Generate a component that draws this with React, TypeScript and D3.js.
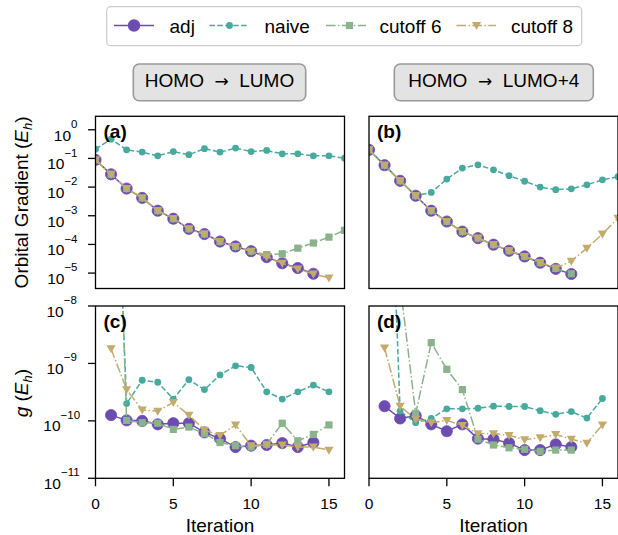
import React from "react";
import * as d3 from "d3";

// ---------- data ----------
const LEGEND_LABELS = ["adj", "naive", "cutoff 6", "cutoff 8"];
const TITLE_LEFT = ["HOMO", "HOMO"];
const TITLE_RIGHT = ["LUMO", "LUMO+4"];
const PANEL_LABELS = ["(a)", "(b)", "(c)", "(d)"];
const X_TICKS = [0, 5, 10, 15];
const TOP_Y_TICKS = [1e0, 1e-1, 1e-2, 1e-3, 1e-4, 1e-5];
const TOP_Y_EXP = ["0", "\u22121", "\u22122", "\u22123", "\u22124", "\u22125"];
const BOT_Y_TICKS = [1e-8, 1e-9, 1e-10, 1e-11];
const BOT_Y_EXP = ["\u22128", "\u22129", "\u221210", "\u221211"];

// Panel (a): orbital gradient, HOMO -> LUMO (iterations start at 0)
const adjA = [8.9e-2, 2.8e-2, 8.9e-3, 4.2e-3, 1.5e-3, 7.9e-4, 3.5e-4, 2.3e-4, 1.26e-4, 8.5e-5, 5.8e-5, 3.6e-5, 2.2e-5, 1.5e-5, 9.5e-6];
const naiveA = [0.21, 0.47, 0.2, 0.166, 0.123, 0.174, 0.135, 0.219, 0.166, 0.229, 0.174, 0.19, 0.145, 0.145, 0.123, 0.123, 0.102];
const cut6A = [8.9e-2, 2.8e-2, 8.9e-3, 4.2e-3, 1.5e-3, 7.9e-4, 3.5e-4, 2.3e-4, 1.26e-4, 8.5e-5, 5.8e-5, 4.4e-5, 4.7e-5, 7.4e-5, 1.12e-4, 1.8e-4, 3.1e-4];
const cut8A = [8.9e-2, 2.8e-2, 8.9e-3, 4.2e-3, 1.5e-3, 7.9e-4, 3.5e-4, 2.3e-4, 1.25e-4, 8.4e-5, 5.7e-5, 3.7e-5, 2.2e-5, 1.4e-5, 9.3e-6, 6.8e-6];

// Panel (b): orbital gradient, HOMO -> LUMO+4 (iterations start at 0)
const adjB = [0.2, 5.8e-2, 1.66e-2, 5.0e-3, 1.5e-3, 6.3e-4, 2.8e-4, 1.66e-4, 9.8e-5, 6.0e-5, 3.8e-5, 2.3e-5, 1.4e-5, 9.3e-6];
const naiveB = [0.2, 5.8e-2, 1.66e-2, 5.0e-3, 6.5e-3, 1.9e-2, 4.6e-2, 6.0e-2, 4.0e-2, 2.5e-2, 1.6e-2, 1.0e-2, 8.1e-3, 8.7e-3, 1.2e-2, 1.8e-2, 2.3e-2];
const cut6B = [0.2, 5.8e-2, 1.66e-2, 5.0e-3, 1.5e-3, 6.3e-4, 2.8e-4, 1.66e-4, 9.8e-5, 6.0e-5, 3.8e-5, 2.3e-5, 1.45e-5, 9.5e-6];
const cut8B = [0.2, 5.8e-2, 1.66e-2, 5.0e-3, 1.5e-3, 6.3e-4, 2.8e-4, 1.66e-4, 9.8e-5, 6.0e-5, 3.8e-5, 2.3e-5, 1.5e-5, 2.6e-5, 7.4e-5, 2.3e-4, 8.3e-4];

// Panel (c): g, HOMO -> LUMO (iterations start at 1)
const adjC = [1.26e-10, 1.02e-10, 1.0e-10, 8.7e-11, 9.1e-11, 9.1e-11, 6.3e-11, 4.9e-11, 3.5e-11, 3.7e-11, 3.8e-11, 4.1e-11, 3.5e-11, 4.2e-11];
const naiveC = [1e-3, 2.0e-10, 5.1e-10, 4.7e-10, 2.4e-10, 5.2e-10, 3.5e-10, 6.3e-10, 9.1e-10, 8.5e-10, 3.2e-10, 2.4e-10, 3.2e-10, 4.2e-10, 3.2e-10];
const cut6C = [1e-2, 1.02e-10, 9.3e-11, 9.1e-11, 7.1e-11, 7.8e-11, 6.0e-11, 4.2e-11, 3.7e-11, 3.5e-11, 3.9e-11, 9.1e-11, 4.5e-11, 5.8e-11, 8.5e-11];
const cut8C = [1.8e-9, 3.5e-10, 1.55e-10, 1.48e-10, 2.1e-10, 1.26e-10, 6.9e-11, 5.6e-11, 8.5e-11, 3.7e-11, 3.8e-11, 3.8e-11, 3.5e-11, 3.5e-11, 3.1e-11];

// Panel (d): g, HOMO -> LUMO+4 (iterations start at 1)
const adjD = [1.8e-10, 1.1e-10, 1.23e-10, 8.7e-11, 6.6e-11, 8.7e-11, 4.9e-11, 4.8e-11, 4.1e-11, 3.1e-11, 3.1e-11, 3.9e-11, 3.5e-11];
const naiveD = [2e-3, 1.48e-10, 9.3e-11, 1.1e-10, 1.62e-10, 1.62e-10, 1.66e-10, 1.8e-10, 1.78e-10, 1.78e-10, 1.5e-10, 1.3e-10, 1.45e-10, 1.12e-10, 2.45e-10];
const cut6D = [1e-6, 2.4e-8, 1.35e-10, 2.3e-9, 7.9e-10, 3.5e-10, 4.8e-11, 3.8e-11, 3.4e-11, 3.2e-11, 2.95e-11, 3.1e-11, 3.1e-11];
const cut8D = [1.86e-9, 1.8e-10, 1.07e-10, 9.3e-11, 1.02e-10, 8.3e-11, 6.0e-11, 6.0e-11, 5.6e-11, 4.7e-11, 5.1e-11, 5.8e-11, 4.8e-11, 4.1e-11, 8.5e-11];

const TOP_START = 0;
const BOT_START = 1;

// ---------- styles ----------
const FONT = '"Liberation Sans", Arial, Helvetica, sans-serif';
const ARROW_FONT = '"DejaVu Sans", sans-serif';
const COLORS = ["#6c4cb0", "#48aa9e", "#8ab38c", "#c2ac6c"];
const DASHES = [null, "5.5,2.4", "9.6,2.4,1.5,2.4", "9.6,2.4,1.5,2.4"];
const MARKERS = ["bigcircle", "circle", "square", "triangle"];
const LW = 1.5;

type Series = { values: number[]; start: number };

function Marker({ kind, x, y, color }: { kind: string; x: number; y: number; color: string }) {
  if (kind === "bigcircle") return <circle cx={x} cy={y} r={5.6} fill={color} stroke={color} strokeWidth={0.8} />;
  if (kind === "circle") return <circle cx={x} cy={y} r={3.4} fill={color} />;
  if (kind === "square") return <rect x={x - 3.6} y={y - 3.6} width={7.2} height={7.2} fill={color} />;
  const s = 4.6;
  return <path d={`M${x - s},${y - s * 0.75}L${x + s},${y - s * 0.75}L${x},${y + s}Z`} fill={color} />;
}

function Panel({
  id, x0, x1, y0, y1, yDomain, series, label, showYTicks, yTicks, yExp, showXTicks, xLabel, bottomStyle,
}: any) {
  const xs = d3.scaleLinear().domain([0, 16]).range([x0, x1]);
  const ys = d3.scaleLog().domain(yDomain).range([y1, y0]);
  const line = d3.line<[number, number]>().x((d) => xs(d[0])).y((d) => ys(d[1]));
  return (
    <g>
      <defs>
        <clipPath id={id}>
          <rect x={x0} y={y0} width={x1 - x0} height={y1 - y0} />
        </clipPath>
      </defs>
      <g clipPath={`url(#${id})`}>
        {series.map((s: Series, k: number) => {
          const pts: [number, number][] = s.values.map((v, i) => [i + s.start, v]);
          return (
            <g key={k}>
              <path
                d={line(pts) || ""}
                fill="none"
                stroke={COLORS[k]}
                strokeWidth={LW}
                strokeDasharray={DASHES[k] || undefined}
              />
              {pts.map((p, i) => (
                <Marker key={i} kind={MARKERS[k]} x={xs(p[0])} y={ys(p[1])} color={COLORS[k]} />
              ))}
            </g>
          );
        })}
      </g>
      <rect x={x0} y={y0} width={x1 - x0} height={y1 - y0} fill="none" stroke="#000" strokeWidth={1.3} />
      <text x={x0 + 8} y={y0 + 22} fontFamily={FONT} fontSize={19} fontWeight="bold" fill="#000">
        {label}
      </text>
      {showYTicks &&
        yTicks.map((t: number, i: number) => {
          const y = ys(t);
          return (
            <g key={i}>
              <line x1={x0 - 7.5} x2={x0} y1={y} y2={y} stroke="#000" strokeWidth={1.3} />
              {bottomStyle ? (
                <text x={61.7} y={y + 10.5} textAnchor="middle" fontFamily={FONT} fontSize={15.5} fill="#000">
                  <tspan>10</tspan>
                  <tspan fontSize={11.5} dy={-12.5}>{yExp[i]}</tspan>
                </text>
              ) : (
                <text x={77.5} y={y + 11} textAnchor="end" fontFamily={FONT} fontSize={15.5} fill="#000">
                  <tspan>10</tspan>
                  <tspan fontSize={11.5} dy={-12.7}>{yExp[i]}</tspan>
                </text>
              )}
            </g>
          );
        })}
      {showXTicks &&
        X_TICKS.map((t, i) => (
          <g key={i}>
            <line x1={xs(t)} x2={xs(t)} y1={y1} y2={y1 + 8} stroke="#000" strokeWidth={1.3} />
            <text x={xs(t)} y={509} textAnchor="middle" fontFamily={FONT} fontSize={15.5} fill="#000">
              {t}
            </text>
          </g>
        ))}
      {xLabel && (
        <text x={(x0 + x1) / 2} y={531.5} textAnchor="middle" fontFamily={FONT} fontSize={19} fill="#000">
          {xLabel}
        </text>
      )}
    </g>
  );
}

export default function App() {
  const W = 618;
  const H = 535;
  const LX0 = 95.5, LX1 = 344.5, RX0 = 369, RX1 = 618;
  const TY0 = 116.3, TY1 = 288.5, BY0 = 306, BY1 = 478.3;
  const topDomain = [2.9e-6, 2.95];
  const botDomain = [1e-11, 1e-8];

  const legendItems = [
    { lx0: 114, lx1: 154, mx: 134, tx: 169.5 },
    { lx0: 209.5, lx1: 248.5, mx: 229.5, tx: 264.5 },
    { lx0: 326, lx1: 366, mx: 349.5, tx: 379.5 },
    { lx0: 456.5, lx1: 496, mx: 476.5, tx: 511 },
  ];

  return (
    <svg width={W} height={H} style={{ position: "absolute", left: 0, top: 0, background: "#fff" }}>
      <rect x={0} y={0} width={W} height={H} fill="#fff" />
      {/* legend */}
      <rect x={106.7} y={6.7} width={475} height={39} rx={4} fill="#fff" stroke="#cccccc" strokeWidth={1.2} />
      {LEGEND_LABELS.map((lab, k) => {
        const it = legendItems[k];
        const y = 25.5;
        return (
          <g key={k}>
            <line x1={it.lx0} x2={it.lx1} y1={y} y2={y} stroke={COLORS[k]} strokeWidth={LW} strokeDasharray={DASHES[k] || undefined} />
            {k === 0 ? (
              <circle cx={it.mx} cy={y} r={6.2} fill={COLORS[0]} />
            ) : (
              <Marker kind={MARKERS[k]} x={it.mx} y={y} color={COLORS[k]} />
            )}
            <text x={it.tx} y={33} fontFamily={FONT} fontSize={19} fill="#000">
              {lab}
            </text>
          </g>
        );
      })}
      {/* titles */}
      {[
        { x0: 133.3, x1: 305.7 },
        { x0: 394.3, x1: 593.3 },
      ].map((b, i) => (
        <g key={i}>
          <rect x={b.x0} y={64} width={b.x1 - b.x0} height={36.7} rx={6} fill="#e3e3e3" stroke="#9a9a9a" strokeWidth={1.6} />
          <text x={(b.x0 + b.x1) / 2} y={87.3} textAnchor="middle" fontFamily={FONT} fontSize={19} fill="#000" style={{ whiteSpace: "pre" }}>
            <tspan>{TITLE_LEFT[i] + "  "}</tspan>
            <tspan fontFamily={ARROW_FONT} fontSize={17}>{"\u2192"}</tspan>
            <tspan>{"  " + TITLE_RIGHT[i]}</tspan>
          </text>
        </g>
      ))}
      {/* y labels */}
      <text transform={`translate(28.3,${(TY0 + TY1) / 2}) rotate(-90)`} textAnchor="middle" fontFamily={FONT} fontSize={19} fill="#000">
        <tspan>Orbital Gradient (</tspan>
        <tspan fontStyle="italic">E</tspan>
        <tspan fontStyle="italic" fontSize={13} dy={4}>h</tspan>
        <tspan dy={-4}>)</tspan>
      </text>
      <text transform={`translate(28.3,${(BY0 + BY1) / 2 + 1}) rotate(-90)`} textAnchor="middle" fontFamily={FONT} fontSize={19} fill="#000">
        <tspan fontStyle="italic">g</tspan>
        <tspan> (</tspan>
        <tspan fontStyle="italic">E</tspan>
        <tspan fontStyle="italic" fontSize={13} dy={4}>h</tspan>
        <tspan dy={-4}>)</tspan>
      </text>

      <Panel id="clipA" x0={LX0} x1={LX1} y0={TY0} y1={TY1} yDomain={topDomain}
        series={[{ values: adjA, start: TOP_START }, { values: naiveA, start: TOP_START }, { values: cut6A, start: TOP_START }, { values: cut8A, start: TOP_START }]}
        label={PANEL_LABELS[0]} showYTicks yTicks={TOP_Y_TICKS} yExp={TOP_Y_EXP} />
      <Panel id="clipB" x0={RX0} x1={RX1} y0={TY0} y1={TY1} yDomain={topDomain}
        series={[{ values: adjB, start: TOP_START }, { values: naiveB, start: TOP_START }, { values: cut6B, start: TOP_START }, { values: cut8B, start: TOP_START }]}
        label={PANEL_LABELS[1]} />
      <Panel id="clipC" x0={LX0} x1={LX1} y0={BY0} y1={BY1} yDomain={botDomain}
        series={[{ values: adjC, start: BOT_START }, { values: naiveC, start: BOT_START }, { values: cut6C, start: BOT_START }, { values: cut8C, start: BOT_START }]}
        label={PANEL_LABELS[2]} showYTicks yTicks={BOT_Y_TICKS} yExp={BOT_Y_EXP} bottomStyle showXTicks xLabel="Iteration" />
      <Panel id="clipD" x0={RX0} x1={RX1} y0={BY0} y1={BY1} yDomain={botDomain}
        series={[{ values: adjD, start: BOT_START }, { values: naiveD, start: BOT_START }, { values: cut6D, start: BOT_START }, { values: cut8D, start: BOT_START }]}
        label={PANEL_LABELS[3]} showXTicks xLabel="Iteration" />
    </svg>
  );
}
